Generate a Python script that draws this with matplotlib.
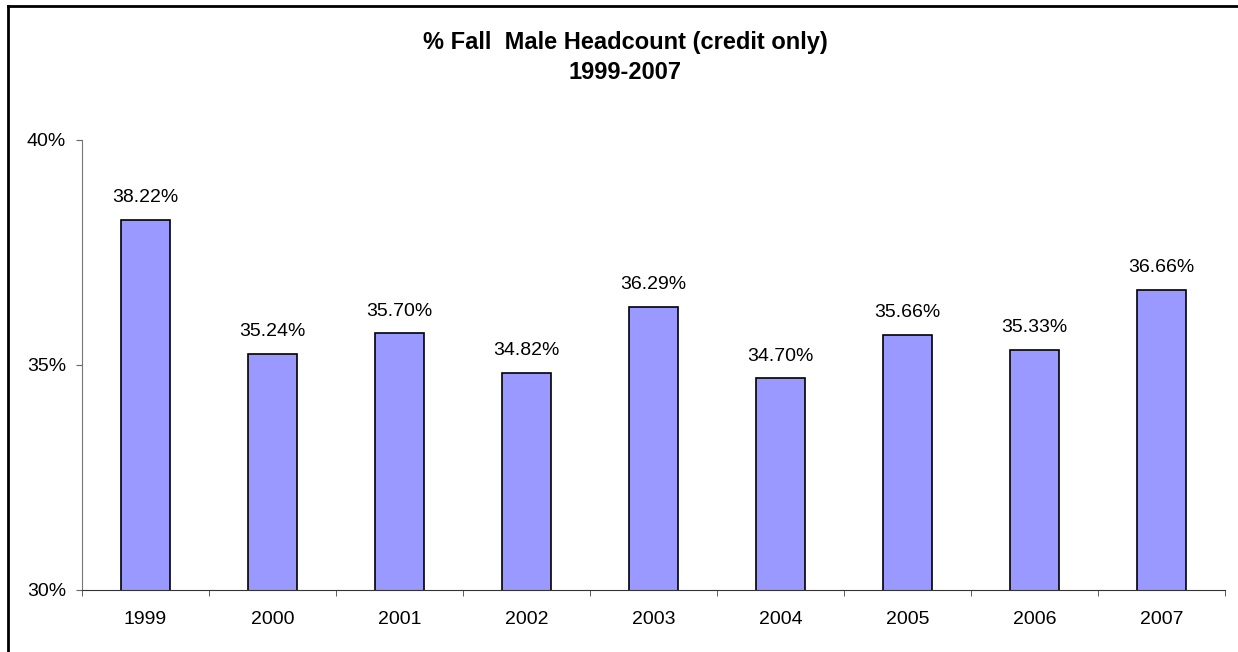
import matplotlib.pyplot as plt
import numpy as np
from matplotlib.lines import Line2D

years = ['1999', '2000', '2001', '2002', '2003', '2004', '2005', '2006', '2007']
male_pct = [38.22, 35.24, 35.70, 34.82, 36.29, 34.70, 35.66, 35.33, 36.66]
y_ticks = [30, 35, 40]

plt.rcParams['font.family'] = ['Liberation Sans', 'DejaVu Sans']

fig = plt.figure(figsize=(12.38, 6.52), dpi=100)
ax = fig.add_axes([0.0662, 0.0951, 0.9233, 0.6902])

x = np.arange(len(years))
ax.bar(x, male_pct, width=0.39, bottom=0, color='#9999FF', edgecolor='black', linewidth=1.2)

for xi, v in zip(x, male_pct):
    ax.annotate('%.2f%%' % v, (xi, v), xytext=(0, 10), textcoords='offset points',
                ha='center', va='bottom', fontsize=14)

ax.set_xlim(-0.5, len(years) - 0.5)
ax.set_ylim(30, 40)
ax.set_yticks(y_ticks)
ax.set_yticklabels(['%d%%' % t for t in y_ticks], fontsize=14)
ax.set_xticks(x)
ax.set_xticklabels(years, fontsize=14)
ax.tick_params(axis='x', length=0, pad=15)
ax.set_xticks(np.arange(len(years) + 1) - 0.5, minor=True)
ax.tick_params(axis='x', which='minor', length=4.5, direction='out', color='#444444')
ax.tick_params(axis='y', length=4.5, direction='out', color='#666666', pad=7)

for s in ['top', 'right']:
    ax.spines[s].set_visible(False)
ax.spines['left'].set_color('#777777')
ax.spines['bottom'].set_color('#333333')

fig.text(0.505, 0.912, '% Fall  Male Headcount (credit only)\n1999-2007', ha='center', va='center',
         fontsize=17, fontweight='bold', linespacing=1.38)

# outer frame (only left and top edges visible in the picture)
fig.add_artist(Line2D([8 / 1238, 8 / 1238], [0, 1 - 6 / 652], transform=fig.transFigure, color='black', lw=2))
fig.add_artist(Line2D([8 / 1238, 1], [1 - 6 / 652, 1 - 6 / 652], transform=fig.transFigure, color='black', lw=2))

fig.savefig('out.png', dpi=100)
